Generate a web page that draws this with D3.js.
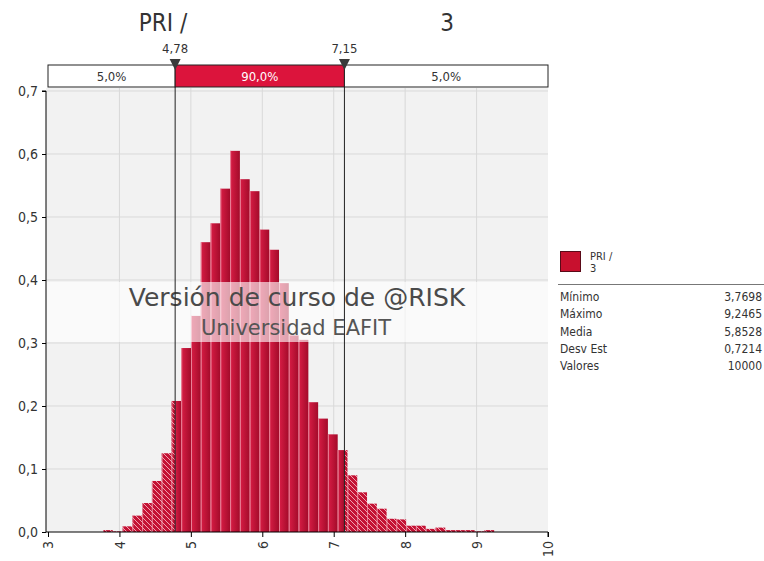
<!DOCTYPE html>
<html>
<head>
<meta charset="utf-8">
<script src="https://cdn.jsdelivr.net/npm/d3@7"></script>
<style>
  body { margin: 0; background: #fff; }
  svg { display: block; font-family: 'DejaVu Sans Condensed', 'DejaVu Sans', sans-serif; }
</style>
</head>
<body>
<div id="chart"></div>
<script>
// @RISK style histogram (density) with 5% / 90% / 5% delimiters

const width = 764
const height = 561

// data
const titleParts = ['PRI /', '3']
const statLabels = ['Mínimo', 'Máximo', 'Media', 'Desv Est', 'Valores']
const statValues = ['3,7698', '9,2465', '5,8528', '0,7214', '10000']
const minimo = 3.7698
const maximo = 9.2465
const binCount = 40
const density = [
  0.003, 0.001, 0.009, 0.026, 0.046, 0.081, 0.125, 0.208, 0.292, 0.343,
  0.460, 0.490, 0.545, 0.605, 0.560, 0.541, 0.480, 0.448, 0.395, 0.312,
  0.305, 0.206, 0.180, 0.155, 0.130, 0.090, 0.063, 0.045, 0.037, 0.021,
  0.020, 0.010, 0.010, 0.005, 0.007, 0.003, 0.003, 0.003, 0.001, 0.003
]
const cutLeft = 4.78
const cutRight = 7.15
const cutLabels = ['4,78', '7,15']
const pctLabels = ['5,0%', '90,0%', '5,0%']
const xTicks = [3, 4, 5, 6, 7, 8, 9, 10]
const yTicks = [0, 0.1, 0.2, 0.3, 0.4, 0.5, 0.6, 0.7]

const plot = { left: 46, right: 548, top: 88, bottom: 532 }
const red = '#c8102e'
const barRed = '#dc143c'
const fmt = d3.format('.1f')
const comma = v => fmt(v).replace('.', ',')

const svg = d3.select('#chart').append('svg')
  .attr('width', width).attr('height', height)

const defs = svg.append('defs')
const grad = defs.append('linearGradient').attr('id', 'barfill')
  .attr('x1', 0).attr('x2', 1).attr('y1', 0).attr('y2', 0)
grad.append('stop').attr('offset', '0%').attr('stop-color', '#d91d45')
grad.append('stop').attr('offset', '100%').attr('stop-color', '#a30b2a')

const hatch = defs.append('pattern').attr('id', 'hatch')
  .attr('patternUnits', 'userSpaceOnUse').attr('width', 5).attr('height', 5)
hatch.append('rect').attr('width', 5).attr('height', 5).attr('fill', '#c41234')
hatch.append('path').attr('d', 'M-1,-1 L6,6 M-1,4 L1,6 M4,-1 L6,1')
  .attr('stroke', '#f0a0b0').attr('stroke-width', 1)

const x = d3.scaleLinear().domain([3, 10]).range([48, 548])
const y = d3.scaleLinear().domain([0, 0.7]).range([532, 91])

// plot background + grid
svg.append('rect')
  .attr('x', plot.left).attr('y', plot.top)
  .attr('width', plot.right - plot.left).attr('height', plot.bottom - plot.top)
  .attr('fill', '#f2f2f2')

const grid = svg.append('g')
grid.selectAll('line.gx').data(xTicks.slice(1, -1)).join('line')
  .attr('class', 'gx')
  .attr('x1', d => x(d)).attr('x2', d => x(d))
  .attr('y1', plot.top).attr('y2', plot.bottom)
  .attr('stroke', '#d9d9d9')
grid.selectAll('line.gy').data(yTicks.slice(1)).join('line')
  .attr('class', 'gy')
  .attr('x1', plot.left).attr('x2', plot.right)
  .attr('y1', d => y(d)).attr('y2', d => y(d))
  .attr('stroke', '#d9d9d9')

// bins
const binW = (maximo - minimo) / binCount
const bins = density.map((v, i) => ({ lo: minimo + i * binW, hi: minimo + (i + 1) * binW, v: v }))

// split every bin into pieces: hatched outside the cut lines, solid inside
const pieces = []
bins.forEach(b => {
  const parts = [
    [b.lo, Math.min(b.hi, cutLeft), 'hatch'],
    [Math.max(b.lo, cutLeft), Math.min(b.hi, cutRight), 'solid'],
    [Math.max(b.lo, cutRight), b.hi, 'hatch']
  ]
  parts.forEach(p => {
    if (p[1] > p[0]) pieces.push({ lo: p[0], hi: p[1], v: b.v, kind: p[2] })
  })
})

const bars = svg.append('g')
bars.selectAll('rect').data(pieces).join('rect')
  .attr('x', d => x(d.lo))
  .attr('width', d => x(d.hi) - x(d.lo))
  .attr('y', d => y(d.v))
  .attr('height', d => y(0) - y(d.v))
  .attr('fill', d => d.kind === 'solid' ? 'url(#barfill)' : 'url(#hatch)')
bars.selectAll('line').data(bins).join('line')
  .attr('x1', d => x(d.lo) + 0.5).attr('x2', d => x(d.lo) + 0.5)
  .attr('y1', d => y(d.v)).attr('y2', y(0))
  .attr('stroke', '#ee9aac').attr('stroke-width', 0.8)

// watermark band
svg.append('rect')
  .attr('x', plot.left).attr('y', 282)
  .attr('width', plot.right - plot.left).attr('height', 60)
  .attr('fill', '#fff').attr('opacity', 0.62)
svg.append('text')
  .attr('x', 297).attr('y', 306)
  .attr('text-anchor', 'middle')
  .attr('font-family', 'DejaVu Sans, sans-serif')
  .attr('font-size', 25).attr('fill', '#4a4a4a')
  .text('Versión de curso de @RISK')
svg.append('text')
  .attr('x', 296).attr('y', 335)
  .attr('text-anchor', 'middle')
  .attr('font-family', 'DejaVu Sans, sans-serif')
  .attr('font-size', 21).attr('fill', '#555')
  .text('Universidad EAFIT')

// axes
const yAxis = d3.axisLeft(y).tickValues(yTicks).tickSize(4).tickFormat(comma)
const yg = svg.append('g').attr('transform', 'translate(' + plot.left + ',0)').call(yAxis)
yg.select('.domain').attr('d', 'M-4,' + y(0.7) + 'H0V' + y(0))
yg.selectAll('text').attr('font-size', 14).attr('fill', '#333').attr('x', -8)
  .attr('font-family', 'DejaVu Sans Condensed, DejaVu Sans, sans-serif')

const xAxis = d3.axisBottom(x).tickValues(xTicks).tickSize(5).tickFormat(d => d)
const xg = svg.append('g').attr('transform', 'translate(0,' + plot.bottom + ')').call(xAxis)
xg.select('.domain').attr('d', 'M' + plot.left + ',0H' + x(10) + 'V5')
xg.selectAll('text')
  .attr('font-size', 14).attr('fill', '#333')
  .attr('font-family', 'DejaVu Sans Condensed, DejaVu Sans, sans-serif')
  .attr('transform', 'rotate(-90)')
  .attr('x', -9).attr('y', 0).attr('dy', '0.35em')
  .attr('text-anchor', 'end')

// cut lines
const cuts = [cutLeft, cutRight]
svg.selectAll('line.cut').data(cuts).join('line')
  .attr('class', 'cut')
  .attr('x1', d => x(d)).attr('x2', d => x(d))
  .attr('y1', 65).attr('y2', plot.bottom)
  .attr('stroke', '#222').attr('stroke-width', 1)

// delimiter bar on top
const segs = [[3, cutLeft], [cutLeft, cutRight], [cutRight, 10]]
const topg = svg.append('g')
topg.selectAll('rect').data(segs).join('rect')
  .attr('x', d => Math.max(x(d[0]), plot.left))
  .attr('width', d => Math.min(x(d[1]), plot.right) - Math.max(x(d[0]), plot.left))
  .attr('y', 65).attr('height', 22)
  .attr('fill', (d, i) => i === 1 ? barRed : '#fff')
  .attr('stroke', '#222').attr('stroke-width', 1)
topg.selectAll('text').data(segs).join('text')
  .attr('x', d => (Math.max(x(d[0]), plot.left) + Math.min(x(d[1]), plot.right)) / 2)
  .attr('y', 81)
  .attr('text-anchor', 'middle')
  .attr('font-size', 13)
  .attr('fill', (d, i) => i === 1 ? '#fff' : '#333')
  .text((d, i) => pctLabels[i])

// triangles and cut labels
svg.selectAll('path.tri').data(cuts).join('path')
  .attr('class', 'tri')
  .attr('d', d => 'M' + (x(d) - 5.5) + ',59 L' + (x(d) + 5.5) + ',59 L' + x(d) + ',70 Z')
  .attr('fill', '#3a3a3a')
svg.selectAll('text.cutlab').data(cuts).join('text')
  .attr('class', 'cutlab')
  .attr('x', d => x(d)).attr('y', 53)
  .attr('text-anchor', 'middle')
  .attr('font-size', 13).attr('fill', '#333')
  .text((d, i) => cutLabels[i])

// title
svg.selectAll('text.title').data(titleParts).join('text')
  .attr('class', 'title')
  .attr('x', (d, i) => i === 0 ? 163 : 447).attr('y', 31)
  .attr('text-anchor', 'middle')
  .attr('font-size', 24).attr('fill', '#333')
  .text(d => d)

// legend
const lg = svg.append('g')
lg.append('rect').attr('x', 560.5).attr('y', 251.5).attr('width', 20).attr('height', 20)
  .attr('fill', red).attr('stroke', '#5a0a18').attr('stroke-width', 1)
lg.selectAll('text.ln').data(titleParts).join('text')
  .attr('class', 'ln')
  .attr('x', 590).attr('y', (d, i) => 260 + i * 12)
  .attr('font-size', 11).attr('fill', '#333')
  .text(d => d)
lg.append('line').attr('x1', 558).attr('x2', 764).attr('y1', 284.5).attr('y2', 284.5)
  .attr('stroke', '#777')
lg.selectAll('text.sl').data(statLabels).join('text')
  .attr('class', 'sl')
  .attr('x', 560).attr('y', (d, i) => 301 + i * 17.3)
  .attr('font-size', 12).attr('fill', '#333')
  .text(d => d)
lg.selectAll('text.sv').data(statValues).join('text')
  .attr('class', 'sv')
  .attr('x', 762).attr('y', (d, i) => 301 + i * 17.3)
  .attr('text-anchor', 'end')
  .attr('font-size', 12).attr('fill', '#333')
  .text(d => d)
</script>
</body>
</html>
